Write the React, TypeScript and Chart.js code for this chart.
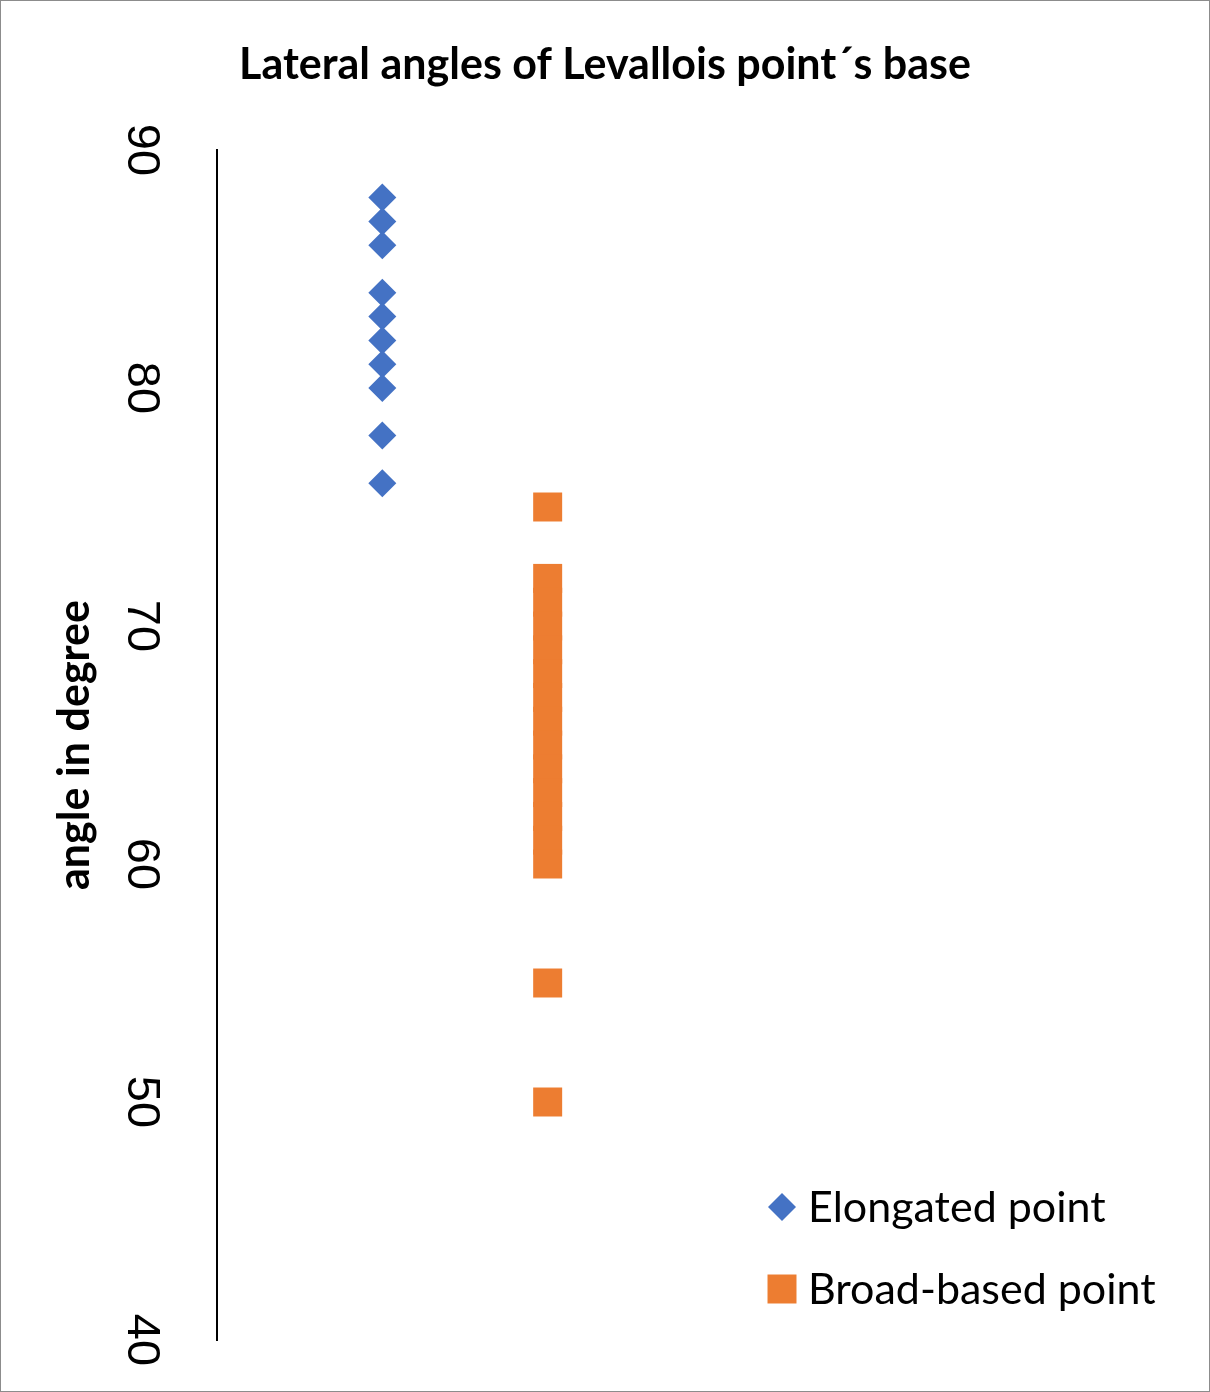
import React, { useEffect, useRef } from 'react';
import { Chart, registerables } from 'chart.js';
import { drawPoint } from 'chart.js/helpers';

Chart.register(...registerables);

// Series: lateral angle (degrees) per point
const elongatedAngles = [88, 87, 86, 84, 83, 82, 81, 80, 78, 76];
const broadBasedAngles = [75, 72, 71, 70, 69, 68, 67, 66, 65, 64, 63, 62, 61, 60, 55, 50];
const seriesLabels = ['Elongated point', 'Broad-based point'];
const yTicks = [40, 50, 60, 70, 80, 90];

const FONT = "Lato, 'Open Sans', sans-serif";
const TICK_FONT = "'Liberation Sans Narrow', 'Arial Narrow', 'Liberation Sans', sans-serif";

// Tick labels rotated 90deg clockwise (reading top to bottom)
const rotatedTicks = {
  id: 'rotatedTicks',
  afterDraw(chart: any) {
    const scale = chart.scales.y;
    const ctx = chart.ctx;
    ctx.save();
    ctx.fillStyle = '#000';
    ctx.font = `47px ${TICK_FONT}`;
    ctx.textAlign = 'center';
    ctx.textBaseline = 'alphabetic';
    scale.ticks.forEach((t: any) => {
      const y = scale.getPixelForValue(t.value);
      ctx.save();
      ctx.translate(127, y);
      ctx.rotate(Math.PI / 2);
      ctx.fillText(String(t.value), 0, 0);
      ctx.restore();
    });
    ctx.restore();
  },
};

// Legend placed inside the plot, bottom right
const insideLegend = {
  id: 'insideLegend',
  afterDraw(chart: any) {
    const ctx = chart.ctx;
    ctx.save();
    ctx.font = `43px ${FONT}`;
    ctx.textBaseline = 'alphabetic';
    ctx.textAlign = 'left';
    chart.data.datasets.forEach((ds: any, i: number) => {
      const y = 1206 + i * 82;
      ctx.fillStyle = ds.backgroundColor;
      drawPoint(ctx, { pointStyle: ds.pointStyle, radius: ds.pointRadius, rotation: 0, borderWidth: 0 }, 781, y);
      ctx.fillStyle = '#000';
      ctx.fillText(ds.label, 807, y + 15);
    });
    ctx.restore();
  },
};

const App: React.FC = () => {
  const chartRef = useRef<HTMLCanvasElement>(null);
  const chartInstance = useRef<Chart | null>(null);

  useEffect(() => {
    document.body.style.margin = '0';
    if (!chartRef.current) return;
    if (chartInstance.current) chartInstance.current.destroy();

    const ctx = chartRef.current.getContext('2d');
    if (!ctx) return;

    chartInstance.current = new Chart(ctx, {
      type: 'scatter',
      data: {
        datasets: [
          {
            label: seriesLabels[0],
            data: elongatedAngles.map((v) => ({ x: 1, y: v })),
            backgroundColor: '#4472C4',
            borderWidth: 0,
            pointStyle: 'rectRot',
            pointRadius: 14,
          },
          {
            label: seriesLabels[1],
            data: broadBasedAngles.map((v) => ({ x: 2, y: v })),
            backgroundColor: '#ED7D31',
            borderWidth: 0,
            pointStyle: 'rect',
            pointRadius: 20.5,
          },
        ],
      },
      options: {
        animation: false,
        responsive: true,
        maintainAspectRatio: false,
        layout: { autoPadding: false, padding: { top: 0, right: 0, bottom: 51, left: 0 } },
        plugins: {
          legend: { display: false },
          tooltip: { enabled: false },
          title: {
            display: true,
            text: 'Lateral angles of Levallois point\u00b4s base',
            color: '#000',
            font: { family: FONT, size: 43, weight: 'bold' },
            padding: { top: 38, bottom: 59.4 },
          },
        },
        scales: {
          x: { type: 'linear', min: 0, max: 6, display: false },
          y: {
            min: yTicks[0],
            max: yTicks[yTicks.length - 1],
            afterBuildTicks: (scale: any) => {
              scale.ticks = yTicks.map((v) => ({ value: v }));
            },
            afterFit: (scale: any) => {
              scale.width = 216;
            },
            ticks: { display: false },
            grid: { display: false },
            border: { display: true, color: '#000', width: 2 },
            title: {
              display: true,
              text: 'angle in degree',
              color: '#000',
              font: { family: FONT, size: 43, weight: 'bold' },
              padding: { top: 48, bottom: 0 },
            },
          },
        },
      },
      plugins: [rotatedTicks, insideLegend],
    });

    return () => {
      if (chartInstance.current) {
        chartInstance.current.destroy();
        chartInstance.current = null;
      }
    };
  }, []);

  return (
    <div style={{ width: 1210, height: 1392, boxSizing: 'border-box', border: '1px solid #8c8c8c', background: '#fff' }}>
      <div style={{ position: 'relative', width: 1208, height: 1390 }}>
        <canvas ref={chartRef}></canvas>
      </div>
    </div>
  );
};

export default App;
